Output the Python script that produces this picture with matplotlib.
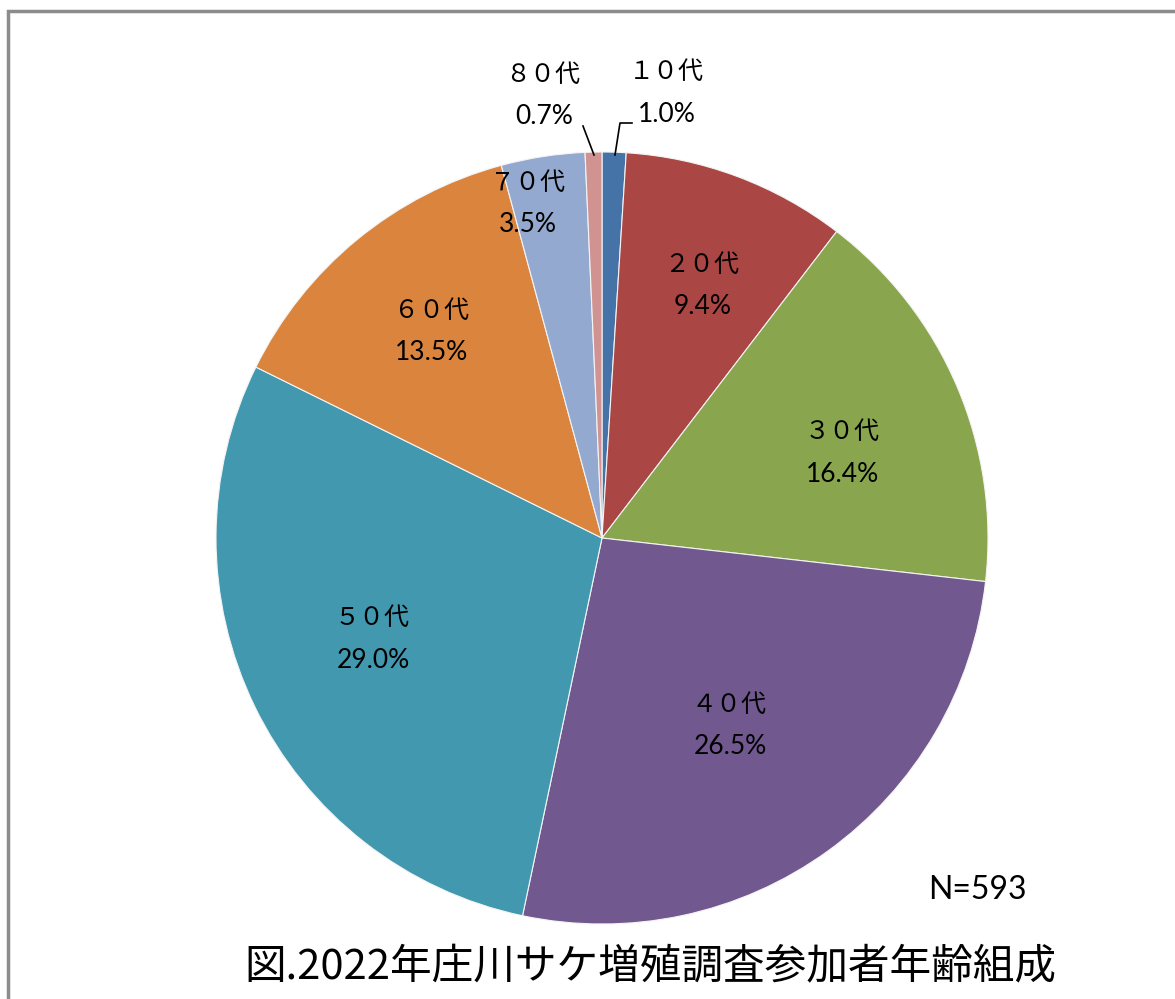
import matplotlib
matplotlib.use("Agg")
import matplotlib.pyplot as plt
from matplotlib.patches import Rectangle

plt.rcParams['font.family'] = ['Noto Sans CJK JP', 'DejaVu Sans']

# データ
age_groups = ['１０代', '２０代', '３０代', '４０代', '５０代', '６０代', '７０代', '８０代']
shares = [1.0, 9.4, 16.4, 26.5, 29.0, 13.5, 3.5, 0.7]
colors = ['#4572A7', '#AA4643', '#89A54E', '#71588F', '#4198AF', '#DB843D', '#93A9CF', '#D19392']
title = '図.2022年庄川サケ増殖調査参加者年齢組成'
n_text = 'N=593'

W, H = 1175, 999
cx, cy, R = 602, 538, 386   # 円の中心と半径(ピクセル)

# ラベル位置(ピクセル、名前の中心)
label_px = [(666, 72), (702, 265), (842, 432), (729, 705),
            (372, 618), (431, 311), (527, 183), (543, 75)]

fig = plt.figure(figsize=(W / 100, H / 100), dpi=100)
ax = fig.add_axes([(cx - R) / W, (H - cy - R) / H, 2 * R / W, 2 * R / H])
ax.pie(shares, colors=colors, startangle=90, counterclock=False,
       wedgeprops=dict(edgecolor='#f4f4f4', linewidth=0.8))
ax.set_xlim(-1, 1)
ax.set_ylim(-1, 1)
ax.set_aspect('auto')
ax.axis('off')

def to_data(px, py):
    return (px - cx) / R, (cy - py) / R

for name, val, (px, py) in zip(age_groups, shares, label_px):
    x, y = to_data(px, py)
    ax.text(x, y, name, ha='center', va='center', fontsize=18, clip_on=False)
    x2, y2 = to_data(px + 1, py + 42)
    ax.text(x2, y2, f'{val:.1f}%', ha='center', va='center', fontsize=19,
            family=['Lato', 'DejaVu Sans'], clip_on=False)

# 引き出し線
x0, y0 = to_data(583, 126)
x1, y1 = to_data(594, 155)
ax.plot([x0, x1], [y0, y1], color='black', lw=1.2, clip_on=False)
pts = [to_data(632, 123), to_data(620, 123), to_data(615, 155)]
ax.plot([p[0] for p in pts], [p[1] for p in pts], color='black', lw=1.2, clip_on=False)

fig.text(977 / W, 1 - 890 / H, n_text, ha='center', va='center', fontsize=23,
         family=['Lato', 'DejaVu Sans'])
fig.text(650 / W, 1 - 968 / H, title, ha='center', va='center', fontsize=30)

# 外枠
fig.patches.append(Rectangle((8 / W, -0.1), 1.2, 1.1 - 11 / H, transform=fig.transFigure,
                             fill=False, edgecolor='#8c8c8c', linewidth=2.5))

fig.savefig('out.png', dpi=100, facecolor='white')
